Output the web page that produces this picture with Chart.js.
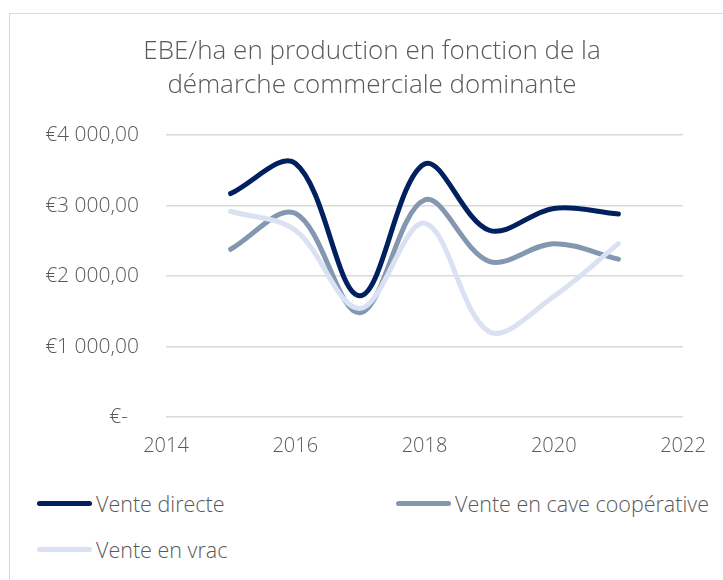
<!DOCTYPE html>
<html lang="fr">
<head>
<meta charset="utf-8">
<title>EBE/ha en production</title>
<script src="https://cdn.jsdelivr.net/npm/chart.js@4"></script>
<style>
  html, body { margin: 0; padding: 0; background: #fff; overflow: hidden; }
  body { width: 723px; height: 580px; position: relative; font-family: 'Open Sans', sans-serif; }
  .frame { position: absolute; left: 9px; top: 13px; width: 800px; height: 700px; border: 1px solid #d9d9d9; box-sizing: border-box; }
  .wrap { position: absolute; left: 0; top: 0; width: 744px; height: 470px; }
  .legend { position: absolute; left: 37px; top: 488px; display: grid; grid-template-columns: 359px 320px; row-gap: 16px; }
  .legend-item { display: flex; align-items: center; height: 30px; color: #595959; font-size: 21.5px; font-weight: 300; white-space: nowrap; }
  .legend-line { width: 55px; height: 5px; border-radius: 3px; margin-right: 4px; }
</style>
</head>
<body>
<div class="frame"></div>
<div class="wrap"><canvas id="chart"></canvas></div>
<div class="legend" id="legend"></div>
<script>
// Données (EBE/ha en production, €)
const years = [2015, 2016, 2017, 2018, 2019, 2020, 2021];
const venteDirecte = [3170, 3600, 1720, 3590, 2650, 2960, 2880];
const venteCave = [2380, 2890, 1480, 3080, 2210, 2460, 2240];
const venteVrac = [2920, 2650, 1540, 2750, 1210, 1710, 2460];

const seriesNames = ['Vente directe', 'Vente en cave coopérative', 'Vente en vrac'];
const seriesColors = ['#002060', '#8497B0', '#D9E1F2'];
const xTicks = [2014, 2016, 2018, 2020, 2022];
const yTicks = [0, 1000, 2000, 3000, 4000];

const TEXT = '#595959';
const FONT = "'Open Sans', sans-serif";

// Format comptable : €4 000,00 / €-
function euro(v) {
  if (v === 0) return '€-  ';
  const s = Math.round(v).toString().replace(/\B(?=(\d{3})+(?!\d))/g, ' ');
  return '€' + s + ',00';
}

const pairs = (vals) => vals.map((y, i) => ({ x: years[i], y }));

const datasets = [venteDirecte, venteCave, venteVrac].map((vals, i) => ({
  label: seriesNames[i],
  data: pairs(vals),
  borderColor: seriesColors[i],
  backgroundColor: seriesColors[i],
  borderWidth: 5,
  borderCapStyle: 'round',
  borderJoinStyle: 'round',
  pointRadius: 0,
  tension: 0.35,
  showLine: true,
  order: 3 - i,
}));

// Le titre Excel est centré sur le cadre du graphique, pas sur la zone de tracé
const centerTitle = {
  id: 'centerTitle',
  afterLayout(c) {
    const t = c.titleBlock;
    if (t) { t.left = 61; t.right = c.chartArea.right; t.width = t.right - t.left; }
  },
};

const chart = new Chart(document.getElementById('chart'), {
  type: 'scatter',
  data: { datasets },
  plugins: [centerTitle],
  options: {
    responsive: true,
    maintainAspectRatio: false,
    animation: false,
    layout: { padding: { left: 0, right: 61, top: 0, bottom: 0 } },
    plugins: {
      legend: { display: false },
      tooltip: { enabled: false },
      title: {
        display: true,
        text: ['EBE/ha en production en fonction de la', 'démarche commerciale dominante'],
        color: TEXT,
        font: { family: FONT, size: 26, weight: '300', lineHeight: 1.31 },
        padding: { top: 35, bottom: 32 },
      },
    },
    scales: {
      x: {
        type: 'linear',
        min: 2014,
        max: 2022,
        afterBuildTicks: (s) => { s.ticks = xTicks.map((v) => ({ value: v })); },
        afterFit: (s) => { s.height = 53; },
        grid: { display: false, drawTicks: false },
        border: { display: false },
        ticks: {
          color: TEXT,
          padding: 17,
          font: { family: FONT, size: 20, weight: '300' },
          callback: (v) => String(v),
        },
      },
      y: {
        min: 0,
        max: 4000,
        afterBuildTicks: (s) => { s.ticks = yTicks.map((v) => ({ value: v })); },
        afterFit: (s) => { s.width = 166; },
        grid: { color: '#d9d9d9', lineWidth: 1.5, drawTicks: false },
        border: { display: false },
        ticks: {
          color: TEXT,
          padding: 27,
          font: { family: FONT, size: 21, weight: '300' },
          callback: (v) => euro(v),
        },
      },
    },
  },
});

// Légende HTML construite à partir des séries du graphique
const legendEl = document.getElementById('legend');
chart.data.datasets.forEach((ds) => {
  const item = document.createElement('div');
  item.className = 'legend-item';
  item.innerHTML = `<span class="legend-line" style="background:${ds.borderColor}"></span>${ds.label}`;
  legendEl.appendChild(item);
});
</script>
</body>
</html>
